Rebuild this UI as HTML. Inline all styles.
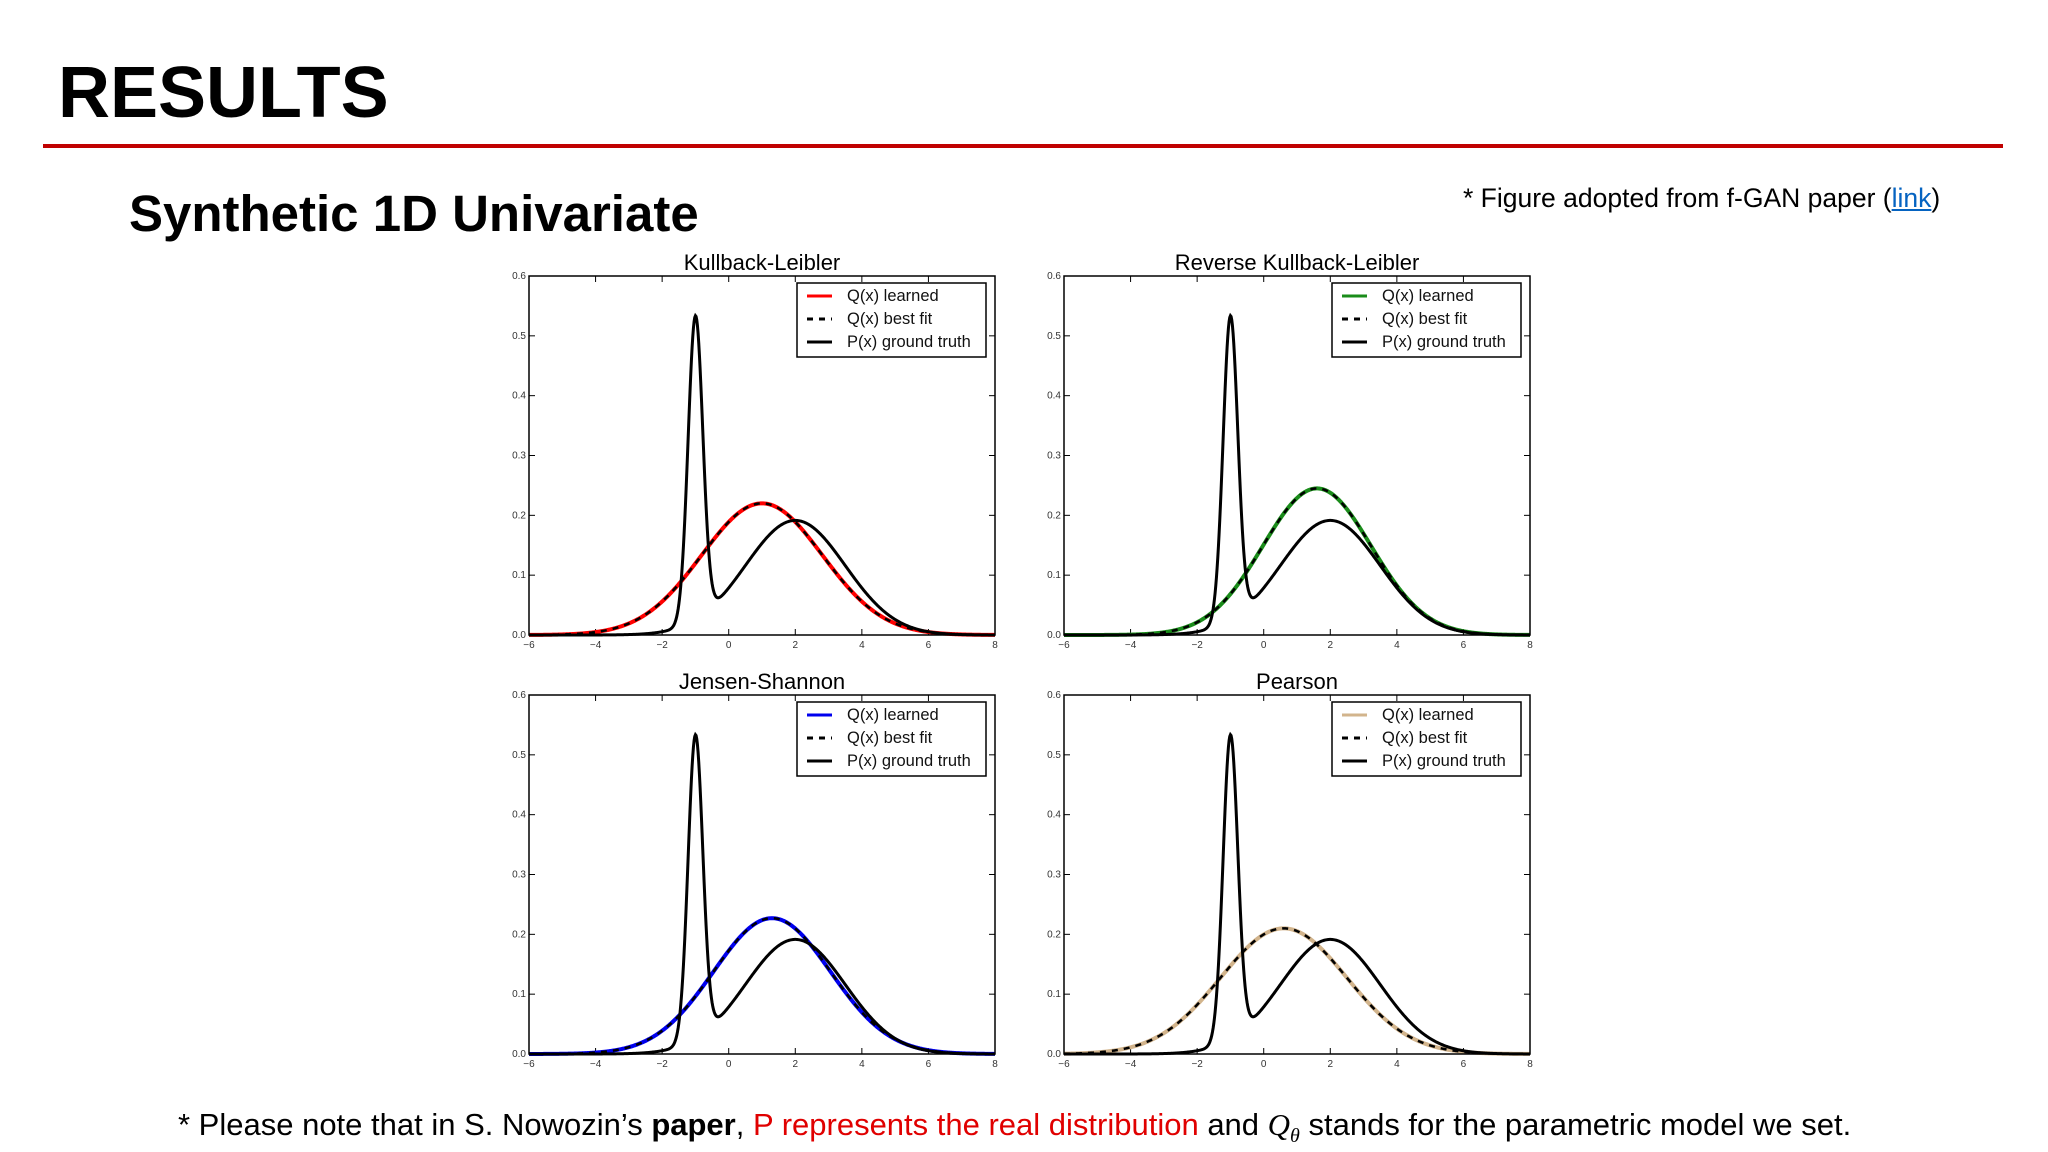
<!DOCTYPE html>
<html><head><meta charset="utf-8"><style>
html,body{margin:0;padding:0;background:#fff;}
body{width:2048px;height:1152px;position:relative;overflow:hidden;font-family:"Liberation Sans","Noto Sans CJK KR",sans-serif;color:#000;}
.t{position:absolute;white-space:nowrap;}
</style></head><body>
<div class="t" style="left:58px;top:52px;font-size:72px;font-weight:bold;">RESULTS</div>
<div style="position:absolute;left:43px;top:144px;width:1960px;height:4px;background:#c00000;"></div>
<div class="t" style="left:129px;top:184px;font-size:51px;font-weight:bold;">Synthetic 1D Univariate</div>
<div class="t" style="left:1463px;top:183px;font-size:26.5px;">* Figure adopted from f-GAN paper (<span style="color:#0563c1;text-decoration:underline;">link</span>)</div>
<div class="t" style="left:178px;top:1107px;font-size:31px;">* Please note that in S. Nowozin’s <b>paper</b>, <span style="color:#e00000;">P represents the real distribution</span> and <i style="font-family:'Liberation Serif',serif;">Q<sub style="font-size:20px;">θ</sub></i> stands for the parametric model we set.</div>
<svg id="chart" width="2048" height="1152" style="position:absolute;left:0;top:0;"></svg>
<script>
// data
const panelTitles = ["Kullback-Leibler","Reverse Kullback-Leibler","Jensen-Shannon","Pearson"];
const learnedColors = ["#ff0000","#1a8c1a","#0000ee","#d2b48c"];
const fitMeans = [1.0, 1.6, 1.3, 0.6];
const fitPeaks = [0.22, 0.245, 0.227, 0.21];
const truthMeans = [-1, 2];
const truthSigmas = [0.22, 1.5];
const truthWeights = [0.28, 0.72];
const xTicks = [-6,-4,-2,0,2,4,6,8];
const yTicks = [0.0,0.1,0.2,0.3,0.4,0.5,0.6];
const legendLabels = ["Q(x) learned","Q(x) best fit","P(x) ground truth"];

const NS="http://www.w3.org/2000/svg";
const svg=document.getElementById('chart');
function mk(tag,attrs,parent){const e=document.createElementNS(NS,tag);for(const k in attrs)e.setAttribute(k,attrs[k]);(parent||svg).appendChild(e);return e;}
function gauss(x,m,s){return Math.exp(-(x-m)*(x-m)/(2*s*s))/(s*Math.sqrt(2*Math.PI));}
const boxes=[[529,276],[1064,276],[529,695],[1064,695]];
const W=466,H=359;
panelTitles.forEach((title,i)=>{
  const [L,T]=boxes[i];
  const g=mk('g',{});
  
  
  const sx=v=>L+(v+6)/14*W, sy=v=>T+H-(v/0.6)*H;
  const tt=mk('text',{x:L+W/2,y:T-6,'text-anchor':'middle','font-size':22,'font-family':'Liberation Sans, sans-serif'},g);
  tt.textContent=title;
  
  
  xTicks.forEach(v=>{const x=sx(v);
    mk('line',{x1:x,x2:x,y1:T+H,y2:T+H-6,stroke:'#000','stroke-width':1},g);
    mk('line',{x1:x,x2:x,y1:T,y2:T+6,stroke:'#000','stroke-width':1},g);
    const l=mk('text',{x:x,y:T+H+13,'text-anchor':'middle','font-size':10,fill:'#333'},g);
    l.textContent=(v<0?'−':'')+Math.abs(v);
    
    });
  yTicks.forEach(v=>{const y=sy(v);
    mk('line',{x1:L,x2:L+6,y1:y,y2:y,stroke:'#000','stroke-width':1},g);
    mk('line',{x1:L+W,x2:L+W-6,y1:y,y2:y,stroke:'#000','stroke-width':1},g);
    const l=mk('text',{x:L-3,y:y+3,'text-anchor':'end','font-size':10,fill:'#333'},g);
    l.textContent=v.toFixed(1);
    
    });
  const sig=1/(fitPeaks[i]*Math.sqrt(2*Math.PI));
  let pq='',pp='';
  for(let k=0;k<=700;k++){const x=-6+14*k/700;
    const q=gauss(x,fitMeans[i],sig);
    let p=0;truthMeans.forEach((m,j)=>p+=truthWeights[j]*gauss(x,m,truthSigmas[j]));
    pq+=(k?'L':'M')+sx(x).toFixed(2)+','+sy(q).toFixed(2);
    pp+=(k?'L':'M')+sx(x).toFixed(2)+','+sy(p).toFixed(2);}
  const c1=mk('path',{d:pq,fill:'none',stroke:learnedColors[i],'stroke-width':4},g);
  
  
  const c2=mk('path',{d:pq,fill:'none',stroke:'#000','stroke-width':2.5,'stroke-dasharray':'6,6'},g);
  
  
  const c3=mk('path',{d:pp,fill:'none',stroke:'#000','stroke-width':3},g);
  
  
  mk('rect',{x:L,y:T,width:W,height:H,fill:'none',stroke:'#000','stroke-width':1.5},g);
  const lg=mk('g',{},g);
  
  
  const lx=L+W-198,ly=T+7;
  mk('rect',{x:lx,y:ly,width:189,height:74,fill:'#fff',stroke:'#000','stroke-width':1.5},lg);
  legendLabels.forEach((lab,j)=>{const y=ly+13+j*23;
    const st=j==0?{stroke:learnedColors[i],'stroke-width':3}:j==1?{stroke:'#000','stroke-width':3,'stroke-dasharray':'6,6'}:{stroke:'#000','stroke-width':3};
    mk('line',Object.assign({x1:lx+10,x2:lx+35,y1:y,y2:y},st),lg);
    const t=mk('text',{x:lx+50,y:y+5,'font-size':16.5,fill:'#111'},lg);
    t.textContent=lab;
    
    });
});
</script>
</body></html>
